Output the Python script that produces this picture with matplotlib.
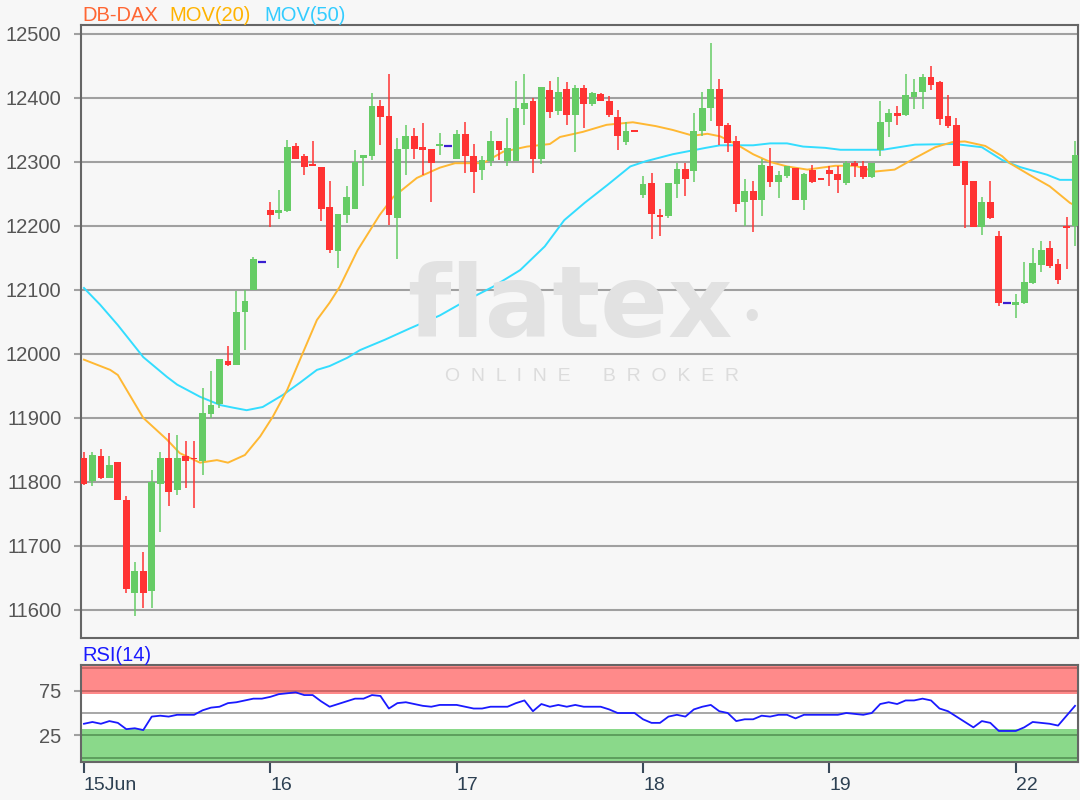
import numpy as np
import matplotlib
matplotlib.use('Agg')
import matplotlib.pyplot as plt

plt.rcParams['font.family'] = ['Liberation Sans', 'DejaVu Sans']

# candle data (index = hourly bar), open/high/low/close
opens = [11838, 11801, 11840, 11806, 11831, 11771, 11626, 11660, 11630, 11797,
         11838, 11788, 11841, 11838, 11833, 11906, 11921, 11989, 11983, 12065,
         12100, 12143, 12225, 12220, 12223, 12325, 12310, 12297, 12292, 12229,
         12161, 12217, 12226, 12306, 12309, 12388, 12372, 12212, 12320, 12341,
         12323, 12320, 12325, 12325, 12304, 12344, 12310, 12288, 12301, 12332,
         12301, 12301, 12383, 12395, 12304, 12413, 12379, 12414, 12374, 12416,
         12390, 12406, 12396, 12371, 12331, 12348, 12249, 12267, 12216, 12215,
         12265, 12289, 12286, 12348, 12384, 12414, 12358, 12333, 12237, 12255,
         12241, 12293, 12269, 12278, 12291, 12241, 12288, 12273, 12288, 12281,
         12267, 12298, 12294, 12276, 12319, 12362, 12377, 12374, 12402, 12409,
         12433, 12425, 12372, 12357, 12301, 12270, 12199, 12238, 12185, 12079,
         12076, 12079, 12111, 12139, 12166, 12140, 12199, 12200]
highs = [11846, 11846, 11852, 11840, 11831, 11778, 11675, 11691, 11818, 11846,
         11877, 11873, 11864, 11864, 11947, 11973, 11992, 12013, 12099, 12100,
         12151, 12143, 12238, 12256, 12335, 12330, 12313, 12332, 12292, 12270,
         12219, 12263, 12319, 12311, 12408, 12397, 12437, 12337, 12357, 12353,
         12361, 12320, 12345, 12325, 12350, 12363, 12328, 12309, 12348, 12332,
         12369, 12426, 12437, 12400, 12417, 12426, 12433, 12425, 12421, 12421,
         12410, 12408, 12403, 12381, 12362, 12348, 12278, 12283, 12226, 12267,
         12299, 12299, 12377, 12409, 12486, 12430, 12361, 12340, 12273, 12270,
         12304, 12322, 12286, 12294, 12291, 12283, 12295, 12273, 12294, 12293,
         12301, 12301, 12301, 12299, 12395, 12383, 12387, 12438, 12430, 12437,
         12450, 12426, 12404, 12369, 12301, 12270, 12245, 12270, 12192, 12079,
         12093, 12143, 12166, 12176, 12176, 12149, 12214, 12332]
lows = [11795, 11793, 11805, 11806, 11772, 11626, 11590, 11603, 11603, 11722,
        11763, 11779, 11790, 11759, 11810, 11900, 11916, 11981, 11983, 12006,
        12100, 12143, 12199, 12211, 12221, 12304, 12280, 12293, 12208, 12157,
        12134, 12204, 12226, 12262, 12303, 12327, 12202, 12148, 12280, 12304,
        12280, 12237, 12311, 12325, 12304, 12283, 12252, 12272, 12293, 12303,
        12293, 12301, 12358, 12283, 12296, 12369, 12374, 12357, 12315, 12353,
        12387, 12395, 12371, 12318, 12327, 12347, 12244, 12180, 12185, 12212,
        12244, 12247, 12268, 12341, 12364, 12327, 12315, 12222, 12200, 12191,
        12216, 12261, 12244, 12275, 12241, 12225, 12267, 12272, 12262, 12252,
        12264, 12276, 12273, 12275, 12309, 12339, 12358, 12372, 12383, 12383,
        12413, 12357, 12353, 12294, 12196, 12199, 12186, 12211, 12075, 12079,
        12056, 12078, 12109, 12128, 12135, 12109, 12133, 12168]
closes = [11797, 11842, 11806, 11827, 11772, 11632, 11660, 11626, 11800, 11838,
          11784, 11838, 11833, 11835, 11908, 11920, 11992, 11983, 12066, 12082,
          12148, 12143, 12217, 12225, 12323, 12304, 12292, 12293, 12227, 12162,
          12219, 12245, 12300, 12311, 12388, 12371, 12217, 12320, 12341, 12320,
          12318, 12299, 12328, 12325, 12344, 12309, 12284, 12303, 12332, 12318,
          12322, 12385, 12392, 12304, 12417, 12378, 12410, 12374, 12416, 12390,
          12408, 12396, 12374, 12340, 12348, 12347, 12265, 12218, 12214, 12267,
          12289, 12274, 12348, 12385, 12414, 12356, 12330, 12234, 12255, 12241,
          12295, 12268, 12280, 12293, 12241, 12281, 12269, 12272, 12281, 12271,
          12299, 12294, 12276, 12299, 12363, 12377, 12372, 12404, 12410, 12433,
          12421, 12367, 12356, 12294, 12264, 12199, 12238, 12212, 12079, 12079,
          12081, 12112, 12142, 12163, 12138, 12116, 12197, 12311]

# moving averages (bar index, value)
ma20_idx = [0, 3.1, 4.0, 7.0, 9.8, 11.3, 13.7, 15.7, 17.0, 19.0, 20.8, 22.3, 24.0,
            25.5, 27.5, 29.0, 30.2, 32.3, 34.9, 36.5, 39.3, 42.0, 43.8, 47.1, 49.5,
            52.3, 55.0, 56.2, 58.9, 61.7, 64.8, 67.5, 69.5, 71.9, 73.6, 75.1, 77.1,
            79.0, 81.0, 83.0, 85.4, 88.7, 91.0, 93.4, 95.7, 98.1, 100.5, 102.5,
            104.0, 106.4, 108.4, 109.3, 111.6, 114.0, 116.4, 117]
ma20_val = [11991, 11975, 11967, 11900, 11866, 11845, 11830, 11834, 11830, 11842,
            11871, 11902, 11944, 11991, 12053, 12080, 12105, 12162, 12217, 12245,
            12275, 12291, 12298, 12298, 12316, 12324, 12328, 12339, 12347, 12358,
            12362, 12356, 12350, 12341, 12344, 12340, 12327, 12312, 12300, 12293,
            12288, 12294, 12294, 12285, 12288, 12306, 12323, 12331, 12332, 12325,
            12309, 12298, 12280, 12262, 12236, 12232]
ma50_idx = [0, 1.9, 4.0, 7.0, 9.8, 11.0, 13.7, 16.1, 17.6, 19.2, 21.1, 23.5, 25.5,
            27.5, 29.0, 31.1, 32.6, 35.5, 38.5, 42.0, 45.2, 48.3, 51.5, 54.4, 56.7,
            59.1, 61.8, 64.5, 66.3, 69.5, 73.4, 75.1, 79.0, 81.0, 83.0, 84.9, 87.5,
            89.3, 94.3, 98.1, 102.8, 106.0, 108.4, 110.5, 113.7, 115.2, 117]
ma50_val = [12103, 12077, 12045, 11995, 11964, 11952, 11933, 11920, 11916, 11912,
            11917, 11936, 11955, 11975, 11981, 11994, 12006, 12022, 12040, 12060,
            12084, 12105, 12131, 12168, 12209, 12236, 12264, 12293, 12301, 12312,
            12322, 12326, 12326, 12329, 12329, 12324, 12322, 12319, 12319, 12327,
            12328, 12323, 12303, 12292, 12280, 12272, 12272]

rsi = [38, 40, 38, 41, 39, 32, 33, 31, 46, 47, 46, 48, 48, 48, 53, 56, 57, 61, 62, 64,
       66, 66, 68, 71, 72, 73, 70, 70, 63, 57, 60, 63, 66, 66, 70, 69, 55, 61, 62, 60,
       58, 57, 59, 59, 59, 57, 55, 55, 57, 57, 57, 61, 64, 52, 60, 57, 59, 57, 59, 57,
       57, 57, 54, 50, 50, 50, 43, 39, 39, 46, 48, 46, 54, 57, 59, 52, 50, 41, 43, 43,
       47, 46, 48, 48, 44, 48, 48, 48, 48, 48, 50, 49, 48, 50, 60, 62, 60, 64, 64, 66,
       64, 55, 52, 46, 40, 34, 41, 39, 30, 30, 30, 34, 40, 39, 38, 36, 47, 58]

day_ticks = [0, 22, 44, 66, 88, 110]
day_labels = ['15Jun', '16', '17', '18', '19', '22']
price_ticks = [11600, 11700, 11800, 11900, 12000, 12100, 12200, 12300, 12400, 12500]

GREEN = '#66cc66'
RED = '#ff3333'
DOJI = '#3a1fd0'
GRID = '#a0a0a0'
SPINE = '#666666'
LABEL = '#555555'

fig = plt.figure(figsize=(10.8, 8), dpi=100, facecolor='#f7f7f7')
ax = fig.add_axes([81/1080, 1 - 638/800, 997/1080, 613/800])
ax2 = fig.add_axes([81/1080, 1 - 762/800, 997/1080, 97/800], sharex=ax)

n = len(closes)
x = np.arange(n)
o = np.array(opens, float)
c = np.array(closes, float)
h = np.array(highs, float)
l = np.array(lows, float)

# watermark
fig.text(570/1080, 1 - 310/800, 'flatex', fontsize=72, color='#e2e2e2',
         ha='center', va='center', family='DejaVu Sans', weight='bold', zorder=0)
fig.text(752/1080, 1 - 318/800, '\u2022', fontsize=30, color='#e0e0e0',
         ha='center', va='center', zorder=0)
fig.text(592/1080, 1 - 377/800, 'O  N  L  I  N  E      B  R  O  K  E  R', fontsize=14,
         color='#dcdcdc', ha='center', va='center', zorder=0)
ax.patch.set_alpha(0)

for yv in price_ticks:
    ax.axhline(yv, color=GRID, lw=1.5, zorder=1)

ax.plot(ma50_idx, ma50_val, color='#33ddff', lw=1.4, zorder=2)
ax.plot(ma20_idx, ma20_val, color='#ffb833', lw=1.4, zorder=2)

up = c > o
eq = c == o
bw = 0.8
cols = np.where(up, GREEN, RED)
ax.vlines(x[~eq], l[~eq], h[~eq], colors=cols[~eq], lw=1.1, zorder=3)
bot = np.minimum(o, c)
hgt = np.maximum(np.abs(c - o), 2.5)
ax.bar(x[~eq], hgt[~eq], bottom=bot[~eq], width=bw, color=cols[~eq],
       linewidth=0, zorder=4)
ax.hlines(c[eq], x[eq] - 0.45, x[eq] + 0.45, colors=DOJI, lw=1.6, zorder=4)

ax.set_xlim(-0.35, 117.35)
ax.set_ylim(11556, 12514)
ax.set_yticks(price_ticks)
ax.set_yticklabels([str(v) for v in price_ticks])
ax.tick_params(axis='y', length=5, color=GRID, width=1.5, pad=9,
               labelsize=14.5, labelcolor=LABEL)
ax.tick_params(axis='x', length=0, labelbottom=False)
for s in ax.spines.values():
    s.set_color(SPINE)
    s.set_linewidth(1.5)

# RSI panel
ax2.set_facecolor('white')
ax2.axhspan(71, 110, color='#ff8a8a', lw=0, zorder=0)
ax2.axhspan(-10, 32, color='#8ad98a', lw=0, zorder=0)
for yv, col in [(100, '#c86464'), (75, '#c86464'), (50, GRID), (25, '#5a9a5a'), (0, '#5a9a5a')]:
    ax2.axhline(yv, color=col, lw=1.3, zorder=1)
ax2.plot(x, rsi, color='#1a1aff', lw=1.3, zorder=3)
ax2.set_ylim(-4.6, 103.5)
ax2.set_yticks([25, 75])
ax2.tick_params(axis='y', length=5, color=GRID, width=1.5, pad=9,
                labelsize=14.5, labelcolor=LABEL)
ax2.set_xticks(day_ticks)
ax2.set_xticklabels(day_labels, ha='left')
ax2.tick_params(axis='x', length=8, color='#3a4a5a', width=1.5, pad=3,
                labelsize=14, labelcolor='#2d4052')
for s in ax2.spines.values():
    s.set_color(SPINE)
    s.set_linewidth(1.5)

# titles
ty = 1 - 21/800
fig.text(82/1080, ty, 'DB-DAX', color='#ff6633', fontsize=14.5, va='baseline')
fig.text(169/1080, ty, 'MOV(20)', color='#ffb300', fontsize=14.5, va='baseline')
fig.text(264/1080, ty, 'MOV(50)', color='#33ccff', fontsize=14.5, va='baseline')
fig.text(82/1080, 1 - 661/800, 'RSI(14)', color='#1a1aff', fontsize=14.5, va='baseline')

fig.savefig('out.png', dpi=100, facecolor=fig.get_facecolor())
